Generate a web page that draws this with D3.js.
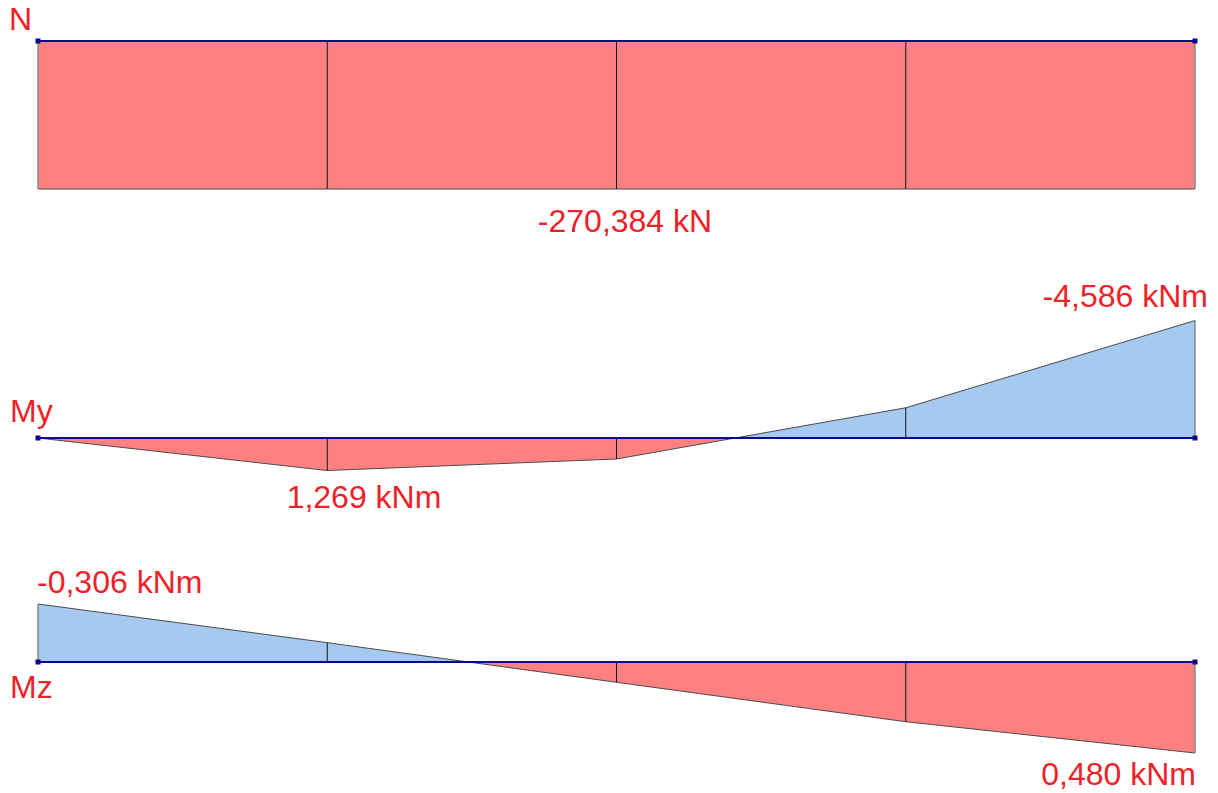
<!DOCTYPE html>
<html>
<head>
<meta charset="utf-8">
<script src="https://cdn.jsdelivr.net/npm/d3@7"></script>
<style>
  body { margin: 0; background: #fff; }
  svg { display: block; }
  text { font-family: "Liberation Sans", Arial, sans-serif; fill: #ee2229; }
</style>
</head>
<body>
<svg id="chart" width="1218" height="793"></svg>
<script>
// node positions along the member (segment index)
const nodes = [0, 1, 2, 3, 4];
// internal forces at each node
const nValues = [-270.384, -270.384, -270.384, -270.384, -270.384];
const myValues = [0, 1.269, 0.82, -1.18, -4.586];
const mzValues = [-0.306, -0.102, 0.107, 0.315, 0.48];

const diagrams = [
  { name: "N", values: nValues, axisY: 41, ref: -270.384, refPx: 148,
    nameAt: [9, 30],
    labels: [{ text: "-270,384 kN", x: 625, y: 232, anchor: "middle" }] },
  { name: "My", values: myValues, axisY: 438, ref: 1.269, refPx: 32.5,
    nameAt: [10, 422],
    labels: [
      { text: "-4,586 kNm", x: 1208, y: 307, anchor: "end" },
      { text: "1,269 kNm", x: 364, y: 508, anchor: "middle" }
    ] },
  { name: "Mz", values: mzValues, axisY: 662, ref: 0.48, refPx: 91,
    nameAt: [10, 698],
    labels: [
      { text: "-0,306 kNm", x: 37, y: 593, anchor: "start" },
      { text: "0,480 kNm", x: 1196, y: 785, anchor: "end" }
    ] }
];

const svg = d3.select("#chart");
const x = d3.scaleLinear().domain(d3.extent(nodes)).range([38, 1195]);

const red = "#ff8080";
const blue = "#a6c9ef";

diagrams.forEach(dg => {
  const y = d3.scaleLinear()
    .domain([0, dg.ref])
    .range([dg.axisY, dg.axisY + dg.refPx]);
  const g = svg.append("g");

  // split each segment at zero crossings so each piece has one colour
  const pieces = [];
  for (let i = 0; i < nodes.length - 1; i++) {
    const a = { x: nodes[i], v: dg.values[i] };
    const b = { x: nodes[i + 1], v: dg.values[i + 1] };
    if (a.v * b.v < 0) {
      const t = a.v / (a.v - b.v);
      const m = { x: a.x + (b.x - a.x) * t, v: 0 };
      pieces.push([a, m], [m, b]);
    } else {
      pieces.push([a, b]);
    }
  }

  const area = d3.area()
    .x(d => x(d.x))
    .y0(dg.axisY)
    .y1(d => y(d.v));

  g.selectAll("path.piece")
    .data(pieces)
    .join("path")
    .attr("class", "piece")
    .attr("d", area)
    .attr("fill", p => (y(p[0].v + p[1].v) > dg.axisY ? red : blue));

  // outline of the diagram
  const pts = nodes.map((n, i) => ({ x: n, v: dg.values[i] }));
  g.append("path")
    .attr("d", d3.line().x(d => x(d.x)).y(d => y(d.v))(pts))
    .attr("fill", "none")
    .attr("stroke", "#4a4a4a")
    .attr("stroke-width", 1);

  // ordinates at nodes
  g.selectAll("line.ord")
    .data(pts)
    .join("line")
    .attr("class", "ord")
    .attr("x1", d => x(d.x)).attr("x2", d => x(d.x))
    .attr("y1", dg.axisY).attr("y2", d => y(d.v))
    .attr("stroke", (d, i) => (i === 0 || i === pts.length - 1 ? "#8a8a8a" : "#111"))
    .attr("stroke-width", (d, i) => (i === 0 || i === pts.length - 1 ? 1.5 : 1));

  // member axis
  g.append("line")
    .attr("x1", x(nodes[0])).attr("x2", x(nodes[nodes.length - 1]))
    .attr("y1", dg.axisY).attr("y2", dg.axisY)
    .attr("stroke", "#0a0a8c")
    .attr("stroke-width", 2);

  g.selectAll("rect.end")
    .data([nodes[0], nodes[nodes.length - 1]])
    .join("rect")
    .attr("class", "end")
    .attr("x", d => x(d) - 2.5).attr("y", dg.axisY - 2.5)
    .attr("width", 5).attr("height", 5)
    .attr("fill", "#0a0a8c");

  g.append("text")
    .attr("x", dg.nameAt[0]).attr("y", dg.nameAt[1])
    .attr("font-size", 32)
    .text(dg.name);

  g.selectAll("text.val")
    .data(dg.labels)
    .join("text")
    .attr("class", "val")
    .attr("x", d => d.x).attr("y", d => d.y)
    .attr("text-anchor", d => d.anchor)
    .attr("font-size", 32)
    .text(d => d.text);
});
</script>
</body>
</html>
